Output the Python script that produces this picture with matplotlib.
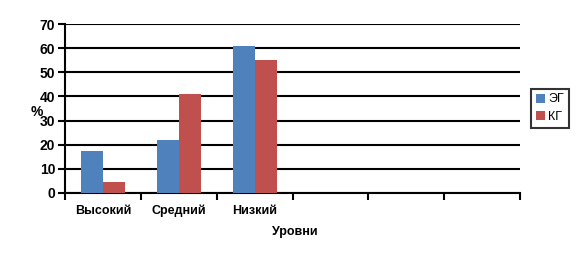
import matplotlib
matplotlib.use("Agg")
import matplotlib.pyplot as plt
import numpy as np

categories = ["Высокий", "Средний", "Низкий", "", "", ""]
eg = [17.5, 22, 61]
kg = [4.5, 41, 55]
yticks = [0, 10, 20, 30, 40, 50, 60, 70]

plt.rcParams['font.family'] = ['Liberation Sans', 'DejaVu Sans']

fig = plt.figure(figsize=(5.77, 2.56), dpi=100)
ax = fig.add_axes([65/577, 1-193/256, (520-65)/577, (193-24)/256])

n = len(categories)
x = np.arange(len(eg)) + 0.5
w = 0.29
ax.bar(x - w/2, eg, width=w, color="#4f81bd", label="ЭГ", zorder=3)
ax.bar(x + w/2, kg, width=w, color="#c0504d", label="КГ", zorder=3)

ax.set_xlim(0, n)
ax.set_ylim(0, 70)
ax.set_yticks(yticks)
ax.set_yticklabels([str(t) for t in yticks], fontsize=10, fontweight='bold')
ax.yaxis.grid(True, color='black', linewidth=1.5, zorder=0)
ax.set_axisbelow(True)
ax.set_xticks(np.arange(n + 1))
ax.set_xticklabels([])
ax.set_xticks(np.arange(n) + 0.5, minor=True)
ax.set_xticklabels(categories, minor=True, fontsize=9, fontweight='bold')
for lab in ax.get_xticklabels(minor=True):
    lab.set_va('baseline')
ax.tick_params(axis='x', which='minor', length=0, pad=15)
ax.tick_params(axis='x', which='major', length=5, width=1.5, direction='out')
ax.tick_params(axis='y', length=5, width=1.5, direction='out', pad=2)
for s in ['top', 'right']:
    ax.spines[s].set_visible(False)
for s in ['left', 'bottom']:
    ax.spines[s].set_linewidth(1.5)
    ax.spines[s].set_color('black')

fig.text(37/577, 1-112/256, "%", fontsize=10, fontweight='bold', ha='center', va='center')
fig.text(295/577, 1-232/256, "Уровни", fontsize=9, fontweight='bold', ha='center', va='center')

leg = fig.legend(loc='center', bbox_to_anchor=(550/577, 1-108/256), fontsize=9,
                 frameon=True, fancybox=False, edgecolor='black', handlelength=0.7,
                 handleheight=0.7, handletextpad=0.3, borderpad=0.4, labelspacing=0.4,
                 borderaxespad=0)
leg.get_frame().set_linewidth(1.5)

fig.savefig("out.png", dpi=100)
